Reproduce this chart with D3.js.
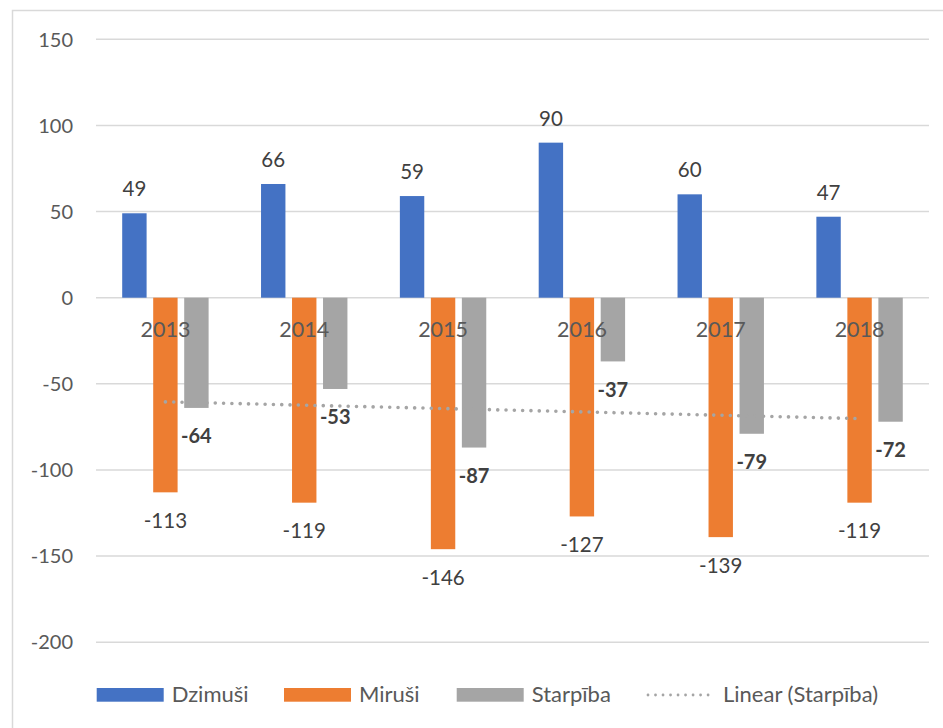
<!DOCTYPE html>
<html>
<head>
<meta charset="utf-8">
<script src="https://cdn.jsdelivr.net/npm/d3@7"></script>
<style>
  body { margin: 0; background: #fff; }
  text { font-family: Lato, "Noto Sans", sans-serif; }
</style>
</head>
<body>
<script>
// data
var years = ["2013", "2014", "2015", "2016", "2017", "2018"];
var dzimusi = [49, 66, 59, 90, 60, 47];
var mirusi = [-113, -119, -146, -127, -139, -119];
var starpiba = [-64, -53, -87, -37, -79, -72];
var seriesNames = ["Dzimuši", "Miruši", "Starpība"];
var yTicks = [150, 100, 50, 0, -50, -100, -150, -200];

var colors = ["#4472C4", "#ED7D31", "#A5A5A5"];
var series = [dzimusi, mirusi, starpiba];

var svg = d3.select("body").append("svg")
            .attr("width", 943)
            .attr("height", 728);

// chart border
svg.append("rect").attr("x", 12.5).attr("y", 10.5)
   .attr("width", 1000).attr("height", 1000)
   .attr("fill", "none").attr("stroke", "#d9d9d9").attr("stroke-width", 1.5);

var x = d3.scaleBand().domain(years).range([96, 929]);
var x1 = d3.scaleBand().domain(seriesNames).range([26.2, 112.6]).paddingInner(0.213);
var y = d3.scaleLinear().domain([-200, 150]).range([642.2, 39.3]);

// gridlines + y labels
svg.append("g").selectAll("line").data(yTicks).join("line")
   .attr("x1", 96).attr("x2", 929)
   .attr("y1", function(d) { return y(d); })
   .attr("y2", function(d) { return y(d); })
   .attr("stroke", "#d9d9d9").attr("stroke-width", 1.5);

svg.append("g").selectAll("text").data(yTicks).join("text")
   .attr("x", 73).attr("y", function(d) { return y(d); })
   .attr("dy", "0.36em")
   .attr("text-anchor", "end")
   .attr("font-size", "20px").attr("fill", "#595959")
   .text(function(d) { return d; });

// bars
series.forEach(function(vals, si) {
    svg.append("g").selectAll("rect").data(vals).join("rect")
       .attr("x", function(d, i) { return x(years[i]) + x1(seriesNames[si]); })
       .attr("width", x1.bandwidth())
       .attr("y", function(d) { return y(Math.max(0, d)); })
       .attr("height", function(d) { return Math.abs(y(d) - y(0)); })
       .attr("fill", colors[si]);
});

// category labels (drawn at zero line, over bars)
svg.append("g").selectAll("text").data(years).join("text")
   .attr("x", function(d) { return x(d) + x.bandwidth() / 2; })
   .attr("y", 336.5)
   .attr("text-anchor", "middle")
   .attr("font-size", "21.5px").attr("fill", "#595959")
   .text(function(d) { return d; });

// linear trend of Starpiba
var n = starpiba.length;
var mx = (n + 1) / 2;
var my = d3.mean(starpiba);
var sxy = d3.sum(starpiba, function(v, i) { return (i + 1 - mx) * (v - my); });
var sxx = d3.sum(starpiba, function(v, i) { return (i + 1 - mx) * (i + 1 - mx); });
var slope = sxy / sxx;
var trend = [1, n].map(function(k) { return [years[k - 1], my + slope * (k - mx)]; });

svg.append("path")
   .attr("d", d3.line()
       .x(function(d) { return x(d[0]) + x.bandwidth() / 2; })
       .y(function(d) { return y(d[1]); })(trend))
   .attr("fill", "none").attr("stroke", "#A5A5A5")
   .attr("stroke-width", 3.6).attr("stroke-linecap", "round")
   .attr("stroke-dasharray", "0.01 8.3");

// data labels
series.forEach(function(vals, si) {
    svg.append("g").selectAll("text").data(vals).join("text")
       .attr("x", function(d, i) { return x(years[i]) + x1(seriesNames[si]) + x1.bandwidth() / 2; })
       .attr("y", function(d) { return d >= 0 ? y(d) - 17 : y(d) + 35.5; })
       .attr("text-anchor", "middle")
       .attr("font-size", si === 2 ? "20px" : "20.5px")
       .attr("font-weight", si === 2 ? "bold" : "normal")
       .attr("fill", "#404040")
       .text(function(d) { return d; });
});

// legend
var legendX = [96.7, 284, 456.7];
var legend = svg.append("g");
seriesNames.forEach(function(name, i) {
    legend.append("rect").attr("x", legendX[i]).attr("y", 688)
          .attr("width", 67).attr("height", 13.7).attr("fill", colors[i]);
    legend.append("text").attr("x", legendX[i] + 75).attr("y", 702)
          .attr("font-size", "22px").attr("fill", "#595959").text(name);
});
legend.append("line").attr("x1", 648).attr("x2", 715).attr("y1", 695).attr("y2", 695)
      .attr("stroke", "#A5A5A5").attr("stroke-width", 2.8).attr("stroke-linecap", "round")
      .attr("stroke-dasharray", "0.01 7.5");
legend.append("text").attr("x", 723).attr("y", 702)
      .attr("font-size", "22px").attr("fill", "#595959").text("Linear (Starpība)");
</script>
</body>
</html>
